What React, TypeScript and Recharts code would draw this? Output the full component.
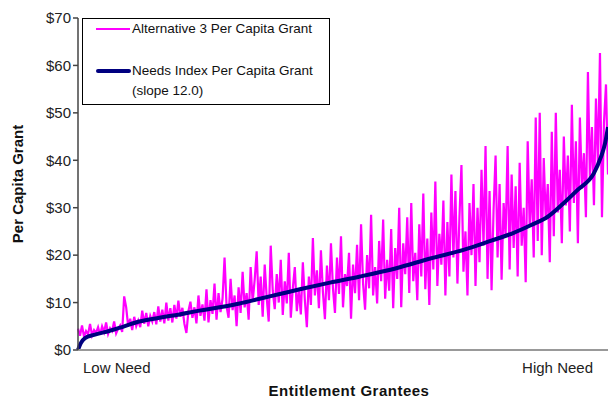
import React from 'react';
import { LineChart, Line, XAxis, YAxis } from 'recharts';

// grantees sorted from low need to high need; one value per grantee rank
const alternative3 = [
    4.5, 3.0, 5.2, 2.8, 4.0, 3.3, 5.5, 3.1, 4.2, 3.6,
    4.8, 3.2, 5.0, 3.8, 5.8, 3.4, 4.6, 4.0, 6.0, 3.5,
    4.5, 5.2, 3.8, 11.3, 9.0, 5.0, 6.6, 4.2, 7.0, 5.0,
    6.2, 4.8, 8.3, 5.5, 7.8, 5.0, 7.2, 6.0, 8.0, 5.4,
    9.2, 6.0, 8.5, 5.6, 10.0, 6.2, 8.8, 5.8, 9.5, 6.6,
    10.4, 7.0, 8.9, 5.5, 3.6, 8.2, 10.2, 6.8, 9.0, 5.6,
    11.5, 7.2, 9.6, 6.2, 12.8, 5.8, 10.5, 7.6, 14.0, 6.4,
    12.0, 8.0, 10.8, 19.5, 9.2, 6.8, 15.0, 8.4, 11.5, 5.0,
    13.2, 7.8, 16.5, 9.0, 12.0, 6.4, 17.5, 10.2, 14.8, 20.8,
    9.5, 15.5, 7.0, 18.0, 11.0, 6.0, 22.0, 12.5, 8.6, 16.0,
    10.0, 19.0, 7.4, 14.5, 9.8, 20.5, 6.8, 13.0, 17.5, 8.2,
    12.8, 7.5, 18.5, 10.5, 4.8, 15.5, 9.5, 23.6, 11.5, 16.8,
    8.8, 21.0, 12.2, 6.5, 17.8, 10.5, 22.5, 13.0, 7.8, 19.5,
    11.8, 24.0, 9.0, 16.0, 13.5, 20.5, 6.6, 18.0, 12.0, 22.2,
    10.5, 26.5, 14.0, 8.5, 20.0, 13.0, 28.5, 11.5, 17.5, 9.8,
    23.0, 14.5, 27.5, 10.8, 19.0, 12.5, 25.5, 8.8, 21.5, 15.0,
    30.0, 9.0, 22.5, 16.0, 28.0, 12.0, 31.0, 14.5, 20.5, 10.5,
    26.5, 15.5, 33.0, 12.8, 23.5, 9.5, 29.0, 17.0, 35.5, 13.5,
    24.5, 18.0, 31.5, 11.5, 27.0, 15.5, 37.0, 19.5, 33.5, 14.0,
    28.0, 39.0, 16.5, 25.0, 11.5, 31.0, 20.0, 35.0, 13.5, 30.0,
    18.5, 38.0, 22.0, 43.0, 15.0, 33.5, 12.6, 29.5, 41.0, 19.5,
    35.0, 14.8, 31.0, 24.0, 43.0, 17.0, 37.0, 21.5, 34.5, 15.5,
    39.5, 22.0, 30.0, 14.3, 44.0, 26.0, 36.0, 19.5, 49.0, 23.0,
    50.0, 20.0, 40.5, 27.5, 35.0, 18.5, 46.0, 24.0, 50.0, 29.0,
    38.0, 22.5, 45.0, 30.5, 41.0, 25.0, 51.7, 31.0, 44.0, 22.5,
    49.0, 34.0, 41.5, 28.0, 58.6, 36.0, 47.0, 30.5, 53.0, 39.0,
    62.6, 28.0, 48.0, 56.0, 37.0,
];

// needs index curve, read at a few grantee ranks
const needsRank = [0, 1.5, 3.5, 8, 15.5, 23, 30.5, 40.5, 50.5, 60.5, 70.5, 80.5, 90.5, 100.5, 110.5, 125.5, 140.5, 159, 175.5, 192, 205.5, 217, 225.5, 234, 242, 249, 257, 260.5, 262.5, 264];
const needsValue = [0, 1.5, 2.5, 3.2, 4.0, 5.0, 6.0, 6.8, 7.5, 8.3, 9.0, 9.8, 10.8, 11.8, 12.8, 14.2, 15.5, 17.3, 19.3, 21.1, 23.0, 24.7, 26.3, 28.1, 31.0, 33.8, 37.3, 40.7, 43.5, 47.0];

const yTicks = [0, 10, 20, 30, 40, 50, 60, 70];
const edgeLabels = ['Low Need', 'High Need'];
const seriesNames = ['Alternative 3 Per Capita Grant', 'Needs Index Per Capita Grant'];
const slopeNote = '(slope 12.0)';

const altData = alternative3.map((v, i) => ({ rank: i, alt: v }));
const needsData = needsRank.map((r, i) => ({ rank: r, needs: needsValue[i] }));
const lastRank = alternative3.length - 1;

const font = '"Liberation Sans", Arial, sans-serif';

const EdgeTick = (props: any) => {
    const { x, y, payload } = props;
    const first = payload.value === 0;
    return (
        <text
            x={first ? x + 5 : x - 3}
            y={y + 15}
            textAnchor={first ? 'start' : 'end'}
            fontSize={15}
            fontFamily={font}
            fill="#222"
        >
            {first ? edgeLabels[0] : edgeLabels[1]}
        </text>
    );
};

const LegendBox = () => (
    <div
        style={{
            position: 'absolute',
            left: 82,
            top: 18,
            width: 246,
            height: 85,
            border: '1px solid #000',
            background: '#fff',
            fontFamily: font,
            fontSize: 13.5,
            lineHeight: '16px',
            color: '#111',
        }}
    >
        <div style={{ position: 'absolute', left: 13, top: 9, width: 34, height: 2, background: '#ff00ff' }} />
        <div style={{ position: 'absolute', left: 49, top: 2, whiteSpace: 'nowrap' }}>{seriesNames[0]}</div>
        <div style={{ position: 'absolute', left: 13, top: 50, width: 35, height: 4, background: '#000080', borderRadius: 2 }} />
        <div style={{ position: 'absolute', left: 49, top: 44, whiteSpace: 'nowrap' }}>{seriesNames[1]}</div>
        <div style={{ position: 'absolute', left: 49, top: 64, whiteSpace: 'nowrap' }}>{slopeNote}</div>
    </div>
);

export default function App() {
    return (
        <div style={{ position: 'absolute', left: 0, top: 0, width: 608, height: 402, background: '#fff' }}>
            <LineChart
                width={608}
                height={402}
                margin={{ top: 18, right: 0, left: 0, bottom: 2 }}
            >
                <XAxis
                    dataKey="rank"
                    type="number"
                    domain={[0, lastRank]}
                    ticks={[0, lastRank]}
                    tick={<EdgeTick />}
                    tickLine={false}
                    axisLine={{ stroke: '#999', strokeWidth: 2 }}
                    height={50}
                    allowDuplicatedCategory={false}
                    label={{
                        value: 'Entitlement Grantees',
                        position: 'insideBottom',
                        offset: 4,
                        dx: 6,
                        style: { fontFamily: font, fontSize: 15, fontWeight: 'bold', fill: '#111', letterSpacing: 0.5 },
                    }}
                />
                <YAxis
                    type="number"
                    domain={[0, 70]}
                    ticks={yTicks}
                    width={78}
                    tickSize={5}
                    tickFormatter={(v: number) => '$' + v}
                    tick={{ fontFamily: font, fontSize: 15, fill: '#222' }}
                    axisLine={{ stroke: '#444', strokeWidth: 1.5 }}
                    tickLine={{ stroke: '#444', strokeWidth: 1.5 }}
                    label={{
                        value: 'Per Capita Grant',
                        angle: -90,
                        position: 'insideLeft',
                        offset: 18,
                        style: { fontFamily: font, fontSize: 15, fontWeight: 'bold', fill: '#111', textAnchor: 'middle' },
                    }}
                />
                <Line
                    data={altData}
                    dataKey="alt"
                    stroke="#ff00ff"
                    strokeWidth={2.2}
                    dot={false}
                    isAnimationActive={false}
                />
                <Line
                    data={needsData}
                    dataKey="needs"
                    type="monotone"
                    stroke="#000080"
                    strokeWidth={4}
                    dot={false}
                    isAnimationActive={false}
                />
            </LineChart>
            <LegendBox />
        </div>
    );
}
